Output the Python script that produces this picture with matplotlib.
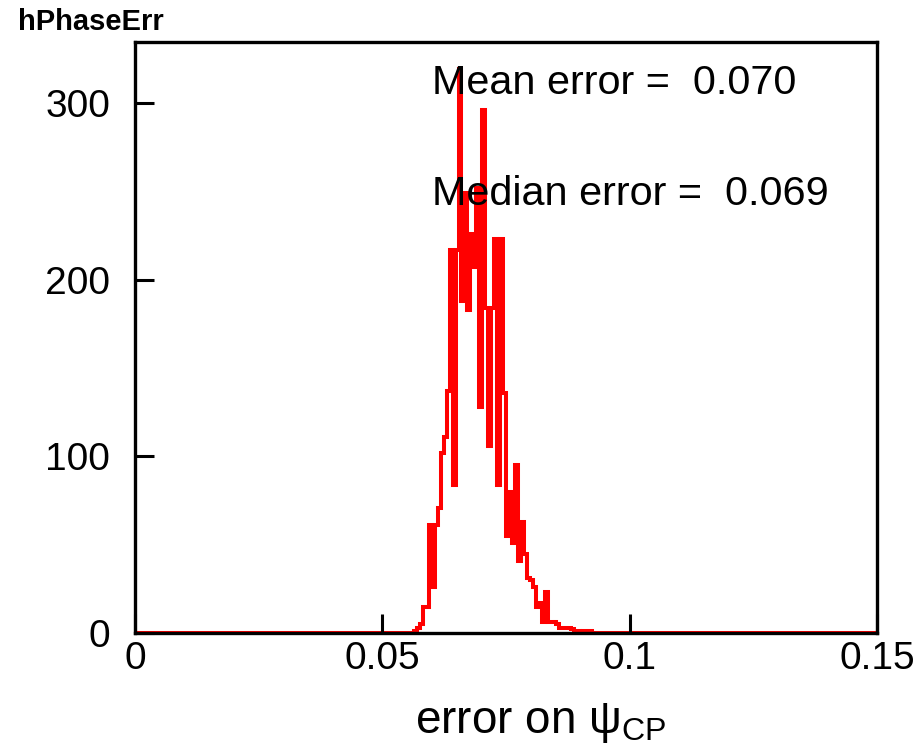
import numpy as np
import matplotlib
matplotlib.use('Agg')
import matplotlib.pyplot as plt

# histogram hPhaseErr: 250 bins from 0 to 0.15, counts
n_bins = 250
x_min, x_max = 0.0, 0.15
first_bin = 94  # index of first non-empty bin
counts_nonzero = [1, 3, 5, 15, 15, 61, 26, 61, 71, 102,
                  111, 137, 217, 84, 217, 319, 188, 249, 183, 226,
                  207, 252, 128, 296, 184, 106, 184, 223, 84, 223,
                  136, 55, 80, 51, 95, 41, 63, 45, 31, 30,
                  26, 15, 17, 6, 23, 6, 6, 6, 5, 3,
                  3, 3, 3, 2, 0, 1, 0, 1, 1, 1]
x_ticks = [0, 0.05, 0.1, 0.15]
x_tick_labels = ['0', '0.05', '0.1', '0.15']
y_ticks = [0, 100, 200, 300]
y_tick_labels = ['0', '100', '200', '300']
mean_err = 0.070
median_err = 0.069

counts = np.zeros(n_bins)
counts[first_bin:first_bin + len(counts_nonzero)] = counts_nonzero
edges = np.linspace(x_min, x_max, n_bins + 1)

plt.rcParams['mathtext.fontset'] = 'custom'
plt.rcParams['mathtext.rm'] = 'Liberation Sans'
plt.rcParams['mathtext.it'] = 'Liberation Sans'
font = ['Liberation Sans', 'DejaVu Sans']

fig = plt.figure(figsize=(9.17, 7.45), dpi=100)
ax = fig.add_axes([0.1472, 0.1503, 0.8092, 0.7933])

ax.stairs(counts, edges, color='red', lw=2.9)

ax.set_xlim(x_min, x_max)
ax.set_ylim(0, 334.5)

ax.set_xticks(x_ticks)
ax.set_xticklabels(x_tick_labels, family=font, fontsize=28)
ax.set_yticks(y_ticks)
ax.set_yticklabels(y_tick_labels, family=font, fontsize=28)
ax.tick_params(direction='in', length=14, width=2.2, top=False, right=False)
ax.tick_params(axis='x', pad=6)
ax.tick_params(axis='y', pad=18)

for s in ax.spines.values():
    s.set_linewidth(2.4)
    s.set_color('black')

ax.set_xlabel(r'error on $\psi_{\mathrm{CP}}$', family=font, fontsize=33, va='baseline')
ax.xaxis.set_label_coords(0.546, -0.169)

ax.text(0.06004, 305, f'Mean error =  {mean_err:.3f}', fontsize=29.8,
        family=font, va='baseline')
ax.text(0.06004, 242, f'Median error =  {median_err:.3f}', fontsize=29.8,
        family=font, va='baseline')

fig.text(18 / 917, 1 - 22 / 745, 'hPhaseErr', fontsize=21, fontweight='bold',
         family=font, va='center', ha='left')

fig.savefig('out.png', dpi=100)
